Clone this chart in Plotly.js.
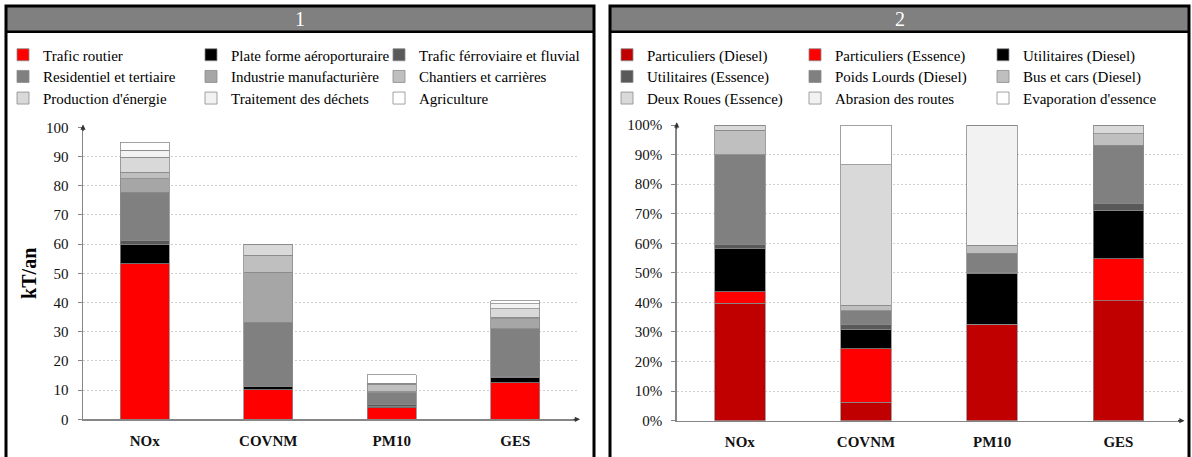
<!DOCTYPE html>
<html>
<head>
<meta charset="utf-8">
<script src="https://cdn.plot.ly/plotly-3.0.1.min.js"></script>
<style>
html,body{margin:0;padding:0;background:#fff;}
#chart{width:1192px;height:457px;}
</style>
</head>
<body>
<div id="chart"></div>
<script>
// ---------- DATA ----------
const categories = ["NOx", "COVNM", "PM10", "GES"];

// Chart 1 : emissions by sector (kT/an)
const sectorNames = ["Trafic routier", "Plate forme aéroporturaire", "Trafic férroviaire et fluvial",
  "Residentiel et tertiaire", "Industrie manufacturière", "Chantiers et carrières",
  "Production d'énergie", "Traitement des déchets", "Agriculture"];
const traficRoutier   = [53.3, 10.2, 4.0, 12.6];
const plateForme      = [6.5, 0.9, 0.4, 1.8];
const ferroviaire     = [1.3, 0.1, 0.6, 0.2];
const residentiel     = [16.6, 22.0, 4.1, 16.4];
const industrie       = [4.6, 17.1, 0.4, 3.4];
const chantiers       = [2.3, 5.8, 2.5, 0.5];
const energie         = [5.2, 3.8, 0.2, 3.0];
const dechets         = [2.3, 0.1, 0.2, 1.6];
const agriculture     = [2.8, 0.0, 2.8, 1.1];
const sectorValues = [traficRoutier, plateForme, ferroviaire, residentiel, industrie, chantiers, energie, dechets, agriculture];
const sectorColors = ["#ff0000", "#000000", "#595959", "#808080", "#a6a6a6", "#bfbfbf", "#d9d9d9", "#f2f2f2", "#ffffff"];

// Chart 2 : road traffic share by vehicle type (%)
const vehicleNames = ["Particuliers (Diesel)", "Particuliers (Essence)", "Utilitaires (Diesel)",
  "Utilitaires (Essence)", "Poids Lourds (Diesel)", "Bus et cars (Diesel)",
  "Deux Roues (Essence)", "Abrasion des routes", "Evaporation d'essence"];
const partDiesel   = [39.8, 6.3, 32.7, 40.5];
const partEssence  = [3.8, 18.1, 0.0, 14.2];
const utilDiesel   = [14.6, 6.6, 17.2, 16.5];
const utilEssence  = [1.5, 1.7, 0.2, 2.4];
const poidsLourds  = [30.2, 4.5, 6.6, 19.6];
const busCars      = [8.4, 1.8, 2.4, 3.8];
const deuxRoues    = [1.7, 47.5, 0.2, 3.0];
const abrasion     = [0.0, 0.0, 40.7, 0.0];
const evaporation  = [0.0, 13.5, 0.0, 0.0];
const vehicleValues = [partDiesel, partEssence, utilDiesel, utilEssence, poidsLourds, busCars, deuxRoues, abrasion, evaporation];
const vehicleColors = ["#c00000", "#ff0000", "#000000", "#595959", "#808080", "#bfbfbf", "#d9d9d9", "#f2f2f2", "#ffffff"];

const yTicks1 = [0, 10, 20, 30, 40, 50, 60, 70, 80, 90, 100];
const yTicks2 = [0, 10, 20, 30, 40, 50, 60, 70, 80, 90, 100];

// ---------- LAYOUT HELPERS ----------
const W = 1192, H = 457;
const px = v => v / W;
const py = v => 1 - v / H;
const FONT = "Liberation Serif, Times New Roman, serif";
const AXC = "#868686";

const legendCols = [[3, 191, 379], [607, 795, 983]];
const legendRows = [55, 76.7, 98.3];

const traces = [];
const legends = {};
function addSeries(names, values, colors, panel) {
  names.forEach((n, i) => {
    const k = panel * 9 + i;
    const id = k === 0 ? "legend" : "legend" + (k + 1);
    legends[id] = {
      orientation: "h",
      x: px(legendCols[panel][i % 3]), xanchor: "left",
      y: py(legendRows[Math.floor(i / 3)]), yanchor: "middle",
      font: {family: FONT, size: 15, color: "#000"},
      bgcolor: "rgba(0,0,0,0)", borderwidth: 0, itemclick: false, itemdoubleclick: false
    };
    traces.push({
      type: "bar", name: n, x: categories, y: values[i],
      xaxis: panel === 0 ? "x" : "x2", yaxis: panel === 0 ? "y" : "y2",
      marker: {color: colors[i], line: {color: "#8a8a8a", width: 0.8}},
      legend: id, hoverinfo: "name+y"
    });
  });
}
addSeries(sectorNames, sectorValues, sectorColors, 0);
addSeries(vehicleNames, vehicleValues, vehicleColors, 1);

const yAxisCommon = {
  showline: true, linecolor: AXC, linewidth: 1.5,
  ticks: "outside", ticklen: 4, tickcolor: AXC, tickwidth: 1,
  showgrid: true, gridcolor: "#cfcfcf", griddash: "2px,2px", gridwidth: 1,
  zeroline: false, automargin: false, fixedrange: true,
  tickfont: {family: FONT, size: 15, color: "#111"}, ticklabelstandoff: 6
};
const xAxisCommon = {
  type: "category", showline: true, linecolor: AXC, linewidth: 1.5,
  ticks: "", showgrid: false, zeroline: false, automargin: false, fixedrange: true,
  tickfont: {family: FONT, size: 15, color: "#111", weight: "bold"}, ticklabelstandoff: 7
};

const layout = Object.assign({
  width: W, height: H,
  margin: {l: 0, r: 0, t: 0, b: 0},
  paper_bgcolor: "#fff", plot_bgcolor: "rgba(0,0,0,0)",
  barmode: "stack", bargap: 0.6,
  showlegend: true,
  xaxis: Object.assign({}, xAxisCommon, {domain: [px(83), px(577)], anchor: "y"}),
  yaxis: Object.assign({}, yAxisCommon, {domain: [1 - 419.3 / H, 1 - 127.3 / H], anchor: "x",
    range: [0, 100], tickvals: yTicks1, ticktext: yTicks1.map(String),
    title: {text: "kT/an", font: {family: FONT, size: 20, color: "#000", weight: "bold"}, standoff: 4}}),
  xaxis2: Object.assign({}, xAxisCommon, {domain: [px(676.7), px(1181.5)], anchor: "y2"}),
  yaxis2: Object.assign({}, yAxisCommon, {domain: [1 - 420.7 / H, 1 - 125 / H], anchor: "x2",
    range: [0, 100], tickvals: yTicks2, ticktext: yTicks2.map(v => v + "%")}),
  shapes: [
    // header fills
    {type: "rect", xref: "paper", yref: "paper", x0: px(6), x1: px(594), y0: py(6), y1: py(31.7), fillcolor: "#808080", line: {width: 0}},
    {type: "rect", xref: "paper", yref: "paper", x0: px(610), x1: px(1189), y0: py(6), y1: py(31.7), fillcolor: "#808080", line: {width: 0}},
    // frames
    {type: "path", xref: "paper", yref: "paper", path: `M${px(6)},${py(470)} L${px(6)},${py(6)} L${px(594)},${py(6)} L${px(594)},${py(470)}`, line: {color: "#000", width: 3}},
    {type: "path", xref: "paper", yref: "paper", path: `M${px(610)},${py(470)} L${px(610)},${py(6)} L${px(1189)},${py(6)} L${px(1189)},${py(470)}`, line: {color: "#000", width: 3}},
    {type: "line", xref: "paper", yref: "paper", x0: px(6), x1: px(594), y0: py(31.7), y1: py(31.7), line: {color: "#000", width: 2.5}},
    {type: "line", xref: "paper", yref: "paper", x0: px(610), x1: px(1189), y0: py(31.7), y1: py(31.7), line: {color: "#000", width: 2.5}}
  ],
  annotations: [
    {xref: "paper", yref: "paper", x: px(300), y: py(19), text: "1", showarrow: false, font: {family: FONT, size: 20, color: "#fff"}, xanchor: "center", yanchor: "middle"},
    {xref: "paper", yref: "paper", x: px(899.5), y: py(19), text: "2", showarrow: false, font: {family: FONT, size: 20, color: "#fff"}, xanchor: "center", yanchor: "middle"},
    // axis arrows
    {xref: "paper", yref: "paper", x: px(580), y: py(419.3), ax: -8, ay: 0, text: "", showarrow: true, arrowhead: 2, arrowsize: 0.8, arrowwidth: 1.3, arrowcolor: "#333"},
    {xref: "paper", yref: "paper", x: px(83), y: py(124.5), ax: 0, ay: 8, text: "", showarrow: true, arrowhead: 2, arrowsize: 0.8, arrowwidth: 1.3, arrowcolor: "#333"},
    {xref: "paper", yref: "paper", x: px(1184.5), y: py(420.7), ax: -8, ay: 0, text: "", showarrow: true, arrowhead: 2, arrowsize: 0.8, arrowwidth: 1.3, arrowcolor: "#333"},
    {xref: "paper", yref: "paper", x: px(676.7), y: py(122.2), ax: 0, ay: 8, text: "", showarrow: true, arrowhead: 2, arrowsize: 0.8, arrowwidth: 1.3, arrowcolor: "#333"}
  ]
}, legends);

Plotly.newPlot("chart", traces, layout, {displayModeBar: false, staticPlot: true});
</script>
</body>
</html>
